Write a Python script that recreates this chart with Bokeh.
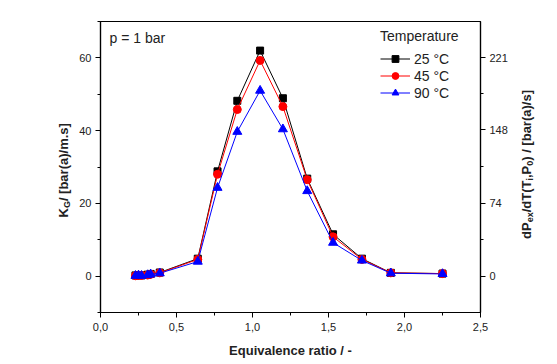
import math
from bokeh.plotting import figure
from bokeh.layouts import row
from bokeh.models import (Range1d, LinearAxis, FixedTicker, SingleIntervalTicker,
                          CustomJSTickFormatter, Label, Legend, LegendItem)
from bokeh.embed import file_html
from bokeh.resources import INLINE

# ---- data ----
phi = [0.23, 0.25, 0.27, 0.31, 0.33, 0.39, 0.64, 0.77, 0.90, 1.05, 1.20, 1.36, 1.53, 1.72, 1.91, 2.25]
kg_25 = [0.2, 0.3, 0.2, 0.4, 0.6, 1.0, 4.8, 28.8, 48.2, 62.0, 48.9, 26.8, 11.5, 4.8, 0.9, 0.7]
kg_45 = [0.1, 0.2, 0.2, 0.3, 0.5, 0.9, 4.6, 28.0, 45.8, 59.3, 46.6, 26.5, 10.8, 4.6, 0.9, 0.7]
kg_90 = [0.1, 0.2, 0.1, 0.3, 0.5, 0.8, 4.0, 24.3, 39.7, 51.0, 40.4, 23.4, 9.2, 4.3, 0.8, 0.6]
series_labels = ["25 °C", "45 °C", "90 °C"]
left_ticks = [0, 20, 40, 60]
left_minor = [-10, 10, 30, 50, 70]
right_ticks = [0, 74, 148, 221]
right_minor = [37, 111, 184.5]

FONT = "Liberation Sans"
TXT = "#222222"
H = 364
LEFT_W, RIGHT_W = 76, 45
MAIN_W = 557 - LEFT_W - RIGHT_W

p = figure(width=MAIN_W, height=H, output_backend="svg", toolbar_location=None,
           x_range=Range1d(0, 2.5), y_range=Range1d(-10, 70),
           min_border_left=99 - LEFT_W, min_border_right=(557 - RIGHT_W) - 480,
           min_border_top=21, min_border_bottom=H - 312)
p.grid.visible = False
p.outline_line_color = "black"
p.outline_line_width = 1.2
p.background_fill_color = "white"
p.border_fill_color = "white"

k = 221 / 60
p.extra_y_ranges = {"right": Range1d(-10 * k, 70 * k)}

def style_axis(ax):
    ax.axis_line_color = "black"
    ax.axis_line_width = 1.2
    ax.major_tick_line_color = "black"
    ax.minor_tick_line_color = "black"
    ax.major_tick_in = 0
    ax.major_tick_out = 5
    ax.minor_tick_in = 0
    ax.minor_tick_out = 3
    ax.major_label_text_font = FONT
    ax.major_label_text_font_size = "11px"
    ax.major_label_text_color = TXT
    ax.major_label_standoff = 4

p.xaxis.ticker = SingleIntervalTicker(interval=0.5, num_minor_ticks=2)
p.xaxis.formatter = CustomJSTickFormatter(code="return tick.toFixed(1).replace('.', ',');")
p.yaxis.ticker = FixedTicker(ticks=left_ticks, minor_ticks=left_minor)
style_axis(p.xaxis[0])
style_axis(p.yaxis[0])
p.xaxis.major_label_standoff = 5
p.xaxis.axis_label = "Equivalence ratio / -"
p.xaxis.axis_label_text_font = FONT
p.xaxis.axis_label_text_font_size = "13px"
p.xaxis.axis_label_text_font_style = "bold"
p.xaxis.axis_label_text_color = TXT
p.xaxis.axis_label_standoff = 9

rax = LinearAxis(y_range_name="right", ticker=FixedTicker(ticks=right_ticks, minor_ticks=right_minor))
style_axis(rax)
p.add_layout(rax, "right")

# ---- series ----
colors = ["black", "#ff0000", "#0000ff"]
markers = ["square", "circle", "triangle"]
sizes = [7, 8, 9]
items = []
for ys, c, m, s, lab in zip([kg_25, kg_45, kg_90], colors, markers, sizes, series_labels):
    lr = p.line(phi, ys, line_color=c, line_width=1)
    sr = p.scatter(phi, ys, marker=m, size=s, fill_color=c, line_color=c)
    items.append(LegendItem(label=lab, renderers=[lr, sr]))

legend = Legend(items=items, location=(280, 211), title="Temperature",
                title_text_font=FONT, title_text_font_size="14px", title_text_font_style="normal",
                title_text_color=TXT, title_standoff=6,
                label_text_font=FONT, label_text_font_size="14px", label_text_color=TXT,
                glyph_width=30, glyph_height=17, label_height=17, label_standoff=4,
                spacing=0, padding=0, margin=0,
                border_line_alpha=0, background_fill_alpha=0)
p.add_layout(legend)

p.add_layout(Label(x=9, y=275, x_units="screen", y_units="screen", text="p = 1 bar",
                   text_font=FONT, text_font_size="14px", text_color=TXT,
                   text_baseline="middle", text_align="left"))

# ---- side figures holding the vertical axis titles (with subscripts) ----
W = {'d': .611, 'P': .667, 'e': .556, 'x': .556, '/': .278, 'T': .611, '(': .333, ')': .333,
     'i': .278, ',': .278, '0': .556, ' ': .278, '[': .333, ']': .333, 'b': .611, 'a': .556,
     'r': .389, 's': .556, 'K': .722, 'G': .778, 'm': .889, '.': .278}

def width(t, size):
    return sum(W.get(ch, .6) for ch in t) * size

def side_fig(w):
    f = figure(width=w, height=H, output_backend="svg", toolbar_location=None,
               x_range=Range1d(0, 1), y_range=Range1d(0, 1), x_axis_type=None, y_axis_type=None,
               min_border_left=0, min_border_right=0, min_border_top=0, min_border_bottom=0)
    f.grid.visible = False
    f.outline_line_color = None
    f.background_fill_color = "white"
    f.border_fill_color = "white"
    return f

def vertical_title(f, pieces, x, yc, size=13, subsize=9):
    total = sum(width(t, subsize if sub else size) for t, sub in pieces)
    y = yc - total / 2
    for t, sub in pieces:
        fs = subsize if sub else size
        f.add_layout(Label(x=x + (3 if sub else 0), y=y, x_units="screen", y_units="screen",
                           text=t, angle=math.pi / 2, text_font=FONT, text_font_size=f"{fs}px",
                           text_font_style="bold", text_color=TXT,
                           text_align="left", text_baseline="middle"))
        y += width(t, fs)

SHIFT = 50  # empirical correction of the side panels' vertical origin
lf = side_fig(LEFT_W)
vertical_title(lf, [("K", False), ("G", True), (" / [bar(a)/m.s]", False)], x=63, yc=H - 170 - SHIFT)
rf = side_fig(RIGHT_W)
vertical_title(rf, [("dP", False), ("ex", True), ("/dT(T", False), ("i", True), (",P", False),
                    ("0", True), (") / [bar(a)/s]", False)], x=526 - (557 - RIGHT_W), yc=H - 166 - SHIFT)

layout = row(lf, p, rf, spacing=0)
open("out.html", "w").write(file_html(layout, INLINE))
